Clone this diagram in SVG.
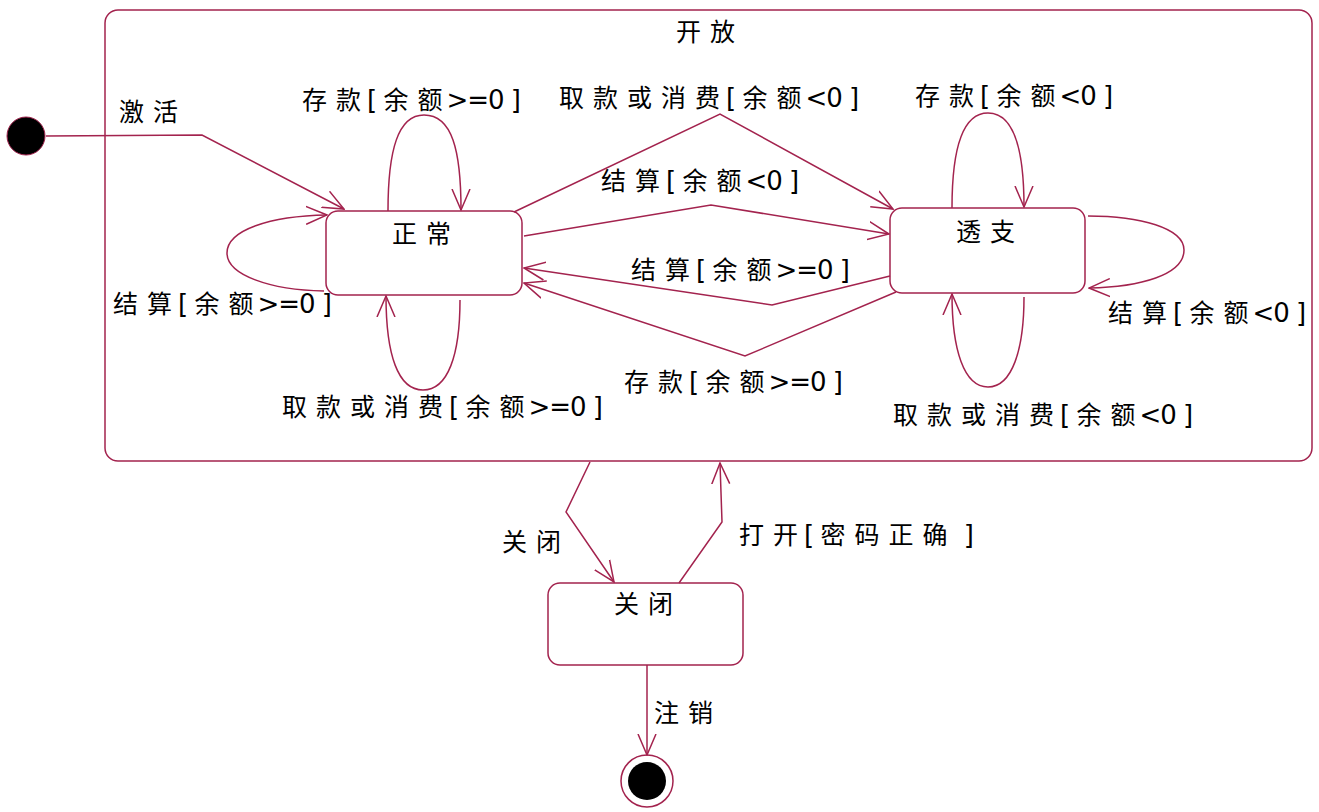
<svg xmlns="http://www.w3.org/2000/svg" width="1319" height="812" viewBox="0 0 1319 812">
<style>
.st{fill:#fff;stroke:#a3234e;stroke-width:1.5}
.ln{fill:none;stroke:#a3234e;stroke-width:1.5;marker-end:url(#ah)}
text{font-family:"Noto Sans CJK SC","DejaVu Sans",sans-serif;font-size:25px;letter-spacing:9px;fill:#000}
.l{font-family:"DejaVu Sans",sans-serif;font-size:26px;letter-spacing:-1px}
.a{letter-spacing:6px}
.b{letter-spacing:4px}
</style>
<defs>
<marker id="ah" viewBox="0 0 22 20" refX="21" refY="10" markerUnits="userSpaceOnUse" markerWidth="22" markerHeight="20" orient="auto">
<path d="M0,1 L21,10 L0,19" fill="none" stroke="#a3234e" stroke-width="1.5"/>
</marker>
</defs>
<rect width="1319" height="812" fill="#fff"/>
<g id="open">
<rect class="st" x="105" y="10" width="1207" height="451" rx="13"/>
<text x="676" y="41">开放</text>
</g>
<g id="initial"><circle cx="26" cy="136" r="19" fill="#000" stroke="#a3234e" stroke-width="1"/></g>
<g id="normal">
<rect class="st" x="326" y="211" width="196" height="84" rx="12"/>
<text x="392" y="243">正常</text>
</g>
<g id="overdraft">
<rect class="st" x="890" y="208" width="195" height="85" rx="12"/>
<text x="956" y="241">透支</text>
</g>
<g id="closed">
<rect class="st" x="548" y="583" width="195" height="82" rx="12"/>
<text x="614" y="613">关闭</text>
</g>
<g id="final">
<circle cx="647" cy="781" r="26" fill="#fff" stroke="#a3234e" stroke-width="1.5"/>
<circle cx="647" cy="781" r="19" fill="#000"/>
</g>
<g id="connectors">
<path class="ln" d="M46,136 L202,135 L344,209"/>
<path class="ln" d="M388,211 C388,150 398,115 424,115 C452,115 461,150 461,210"/>
<path class="ln" d="M952,208 C952,150 962,113 988,113 C1014,113 1024,150 1024,207"/>
<path class="ln" d="M1024,297 C1024,350 1012,387 988,387 C964,387 952,350 952,294"/>
<path class="ln" d="M460,300 C460,355 448,390 423,390 C398,390 386,355 386,296"/>
<path class="ln" d="M324,291 C270,290 227,275 227,253 C227,230 270,216 327,215"/>
<path class="ln" d="M1088,216 C1140,216 1184,228 1184,250 C1184,275 1140,287 1089,288"/>
<path class="ln" d="M514,212 L720,114 L893,209"/>
<path class="ln" d="M524,236 L711,205 L889,234"/>
<path class="ln" d="M890,276 L772,305 L524,268"/>
<path class="ln" d="M896,292 L745,356 L524,283"/>
<path class="ln" d="M590,462 L566,512 L614,582"/>
<path class="ln" d="M679,583 L722,522 L720,463"/>
<path class="ln" d="M647,665 L647,755"/>
</g>
<g id="labels">
<text x="119" y="121">激活</text>
<text x="302" y="109">存<tspan class="a">款</tspan><tspan class="l">[ </tspan>余<tspan class="b">额</tspan><tspan class="l">&gt;=0 ]</tspan></text>
<text x="559" y="107">取款或消<tspan class="a">费</tspan><tspan class="l">[ </tspan>余<tspan class="b">额</tspan><tspan class="l">&lt;0 ]</tspan></text>
<text x="915" y="105">存<tspan class="a">款</tspan><tspan class="l">[ </tspan>余<tspan class="b">额</tspan><tspan class="l">&lt;0 ]</tspan></text>
<text x="601" y="190">结<tspan class="a">算</tspan><tspan class="l">[ </tspan>余<tspan class="b">额</tspan><tspan class="l">&lt;0 ]</tspan></text>
<text x="631" y="279">结<tspan class="a">算</tspan><tspan class="l">[ </tspan>余<tspan class="b">额</tspan><tspan class="l">&gt;=0 ]</tspan></text>
<text x="113" y="313">结<tspan class="a">算</tspan><tspan class="l">[ </tspan>余<tspan class="b">额</tspan><tspan class="l">&gt;=0 ]</tspan></text>
<text x="1108" y="322">结<tspan class="a">算</tspan><tspan class="l">[ </tspan>余<tspan class="b">额</tspan><tspan class="l">&lt;0 ]</tspan></text>
<text x="624" y="391">存<tspan class="a">款</tspan><tspan class="l">[ </tspan>余<tspan class="b">额</tspan><tspan class="l">&gt;=0 ]</tspan></text>
<text x="282" y="416">取款或消<tspan class="a">费</tspan><tspan class="l">[ </tspan>余<tspan class="b">额</tspan><tspan class="l">&gt;=0 ]</tspan></text>
<text x="893" y="424">取款或消<tspan class="a">费</tspan><tspan class="l">[ </tspan>余<tspan class="b">额</tspan><tspan class="l">&lt;0 ]</tspan></text>
<text x="502" y="551">关闭</text>
<text x="739" y="544">打<tspan class="a">开</tspan><tspan class="l">[ </tspan>密码正确<tspan class="l"> ]</tspan></text>
<text x="654" y="722">注销</text>
</g>
</svg>
